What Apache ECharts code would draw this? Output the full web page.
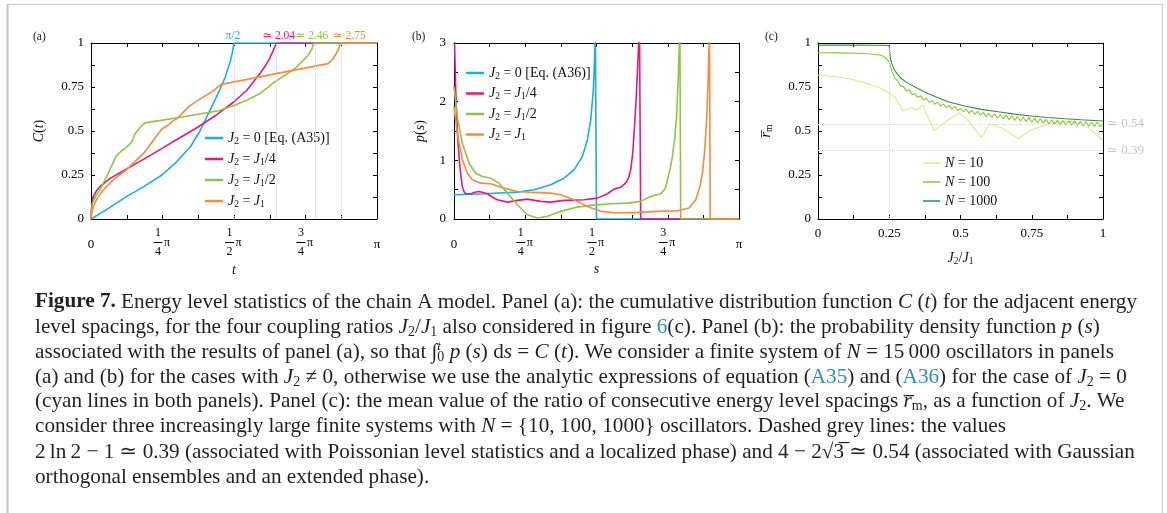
<!DOCTYPE html>
<html>
<head>
<meta charset="utf-8">
<script src="https://cdn.jsdelivr.net/npm/echarts@6/dist/echarts.min.js"></script>
<style>
  html, body { margin: 0; padding: 0; background: #fff; }
  #chart { width: 1167px; height: 513px; }
</style>
</head>
<body>
<div id="chart"></div>
<script>
const PI = Math.PI;
const SERIF = "'Liberation Serif', 'DejaVu Serif', serif";

// panel (a): cumulative distribution C(t), pairs [t, C]
const aJ0 = [[0, 0], [0.17, 0.053], [0.38, 0.124], [0.58, 0.184], [0.78, 0.25], [0.94, 0.325], [1.09, 0.409], [1.2, 0.503], [1.27, 0.578], [1.34, 0.653], [1.42, 0.74], [1.47, 0.8], [1.505, 0.855], [1.535, 0.905], [1.55, 0.94], [1.562, 0.97], [1.5708, 1], [3.1416, 1]];
const aJ14 = [[0, 0], [0.005, 0.05], [0.012, 0.09], [0.026, 0.128], [0.06, 0.16], [0.1, 0.185], [0.21, 0.231], [0.385, 0.283], [0.58, 0.34], [0.776, 0.4], [0.97, 0.46], [1.167, 0.52], [1.36, 0.585], [1.56, 0.662], [1.71, 0.73], [1.8, 0.79], [1.86, 0.83], [1.91, 0.866], [1.96, 0.91], [2.0, 0.955], [2.025, 0.985], [2.04, 1], [3.1416, 1]];
const aJ12 = [[0, 0], [0.005, 0.045], [0.018, 0.09], [0.05, 0.13], [0.099, 0.165], [0.18, 0.25], [0.275, 0.356], [0.33, 0.385], [0.392, 0.409], [0.447, 0.437], [0.483, 0.484], [0.54, 0.52], [0.593, 0.546], [1.0, 0.58], [1.398, 0.615], [1.563, 0.644], [1.71, 0.675], [1.856, 0.713], [2.018, 0.779], [2.14, 0.82], [2.238, 0.854], [2.32, 0.895], [2.384, 0.929], [2.43, 0.97], [2.446, 1], [3.1416, 1]];
const aJ1 = [[0, 0], [0.01, 0.035], [0.026, 0.071], [0.07, 0.12], [0.135, 0.165], [0.25, 0.225], [0.384, 0.278], [0.575, 0.371], [0.776, 0.51], [0.85, 0.535], [0.904, 0.559], [0.95, 0.572], [0.977, 0.587], [1.02, 0.61], [1.087, 0.644], [1.197, 0.681], [1.343, 0.728], [1.431, 0.765], [1.8, 0.802], [2.2, 0.843], [2.603, 0.883], [2.65, 0.905], [2.695, 0.94], [2.725, 0.975], [2.739, 1], [3.1416, 1]];
const aEnds = [PI / 2, 2.04, 2.46, 2.75];
const aEndLabels = ['π/2', '≃ 2.04', '≃ 2.46', '≃ 2.75'];
const aEndShift = [-2, 4, -6, 16];

// panel (b): probability density p(s), pairs [s, p]
const bJ0 = [[0, 0.413], [0.331, 0.43], [0.699, 0.458], [0.882, 0.498], [1.066, 0.583], [1.213, 0.696], [1.323, 0.838], [1.415, 1.064], [1.47, 1.347], [1.507, 1.687], [1.536, 2.196], [1.551, 2.763], [1.558, 3.2], [1.5708, 3.2], [1.5708, 0], [3.1416, 0]];
const bJ14 = [[0, 3.2], [0.006, 3.0], [0.019, 2.196], [0.037, 1.5], [0.055, 1.064], [0.075, 0.75], [0.092, 0.554], [0.11, 0.47], [0.129, 0.43], [0.184, 0.43], [0.23, 0.455], [0.276, 0.469], [0.32, 0.452], [0.368, 0.43], [0.42, 0.375], [0.478, 0.328], [0.588, 0.288], [0.698, 0.317], [0.809, 0.339], [0.956, 0.3], [1.066, 0.288], [1.213, 0.317], [1.433, 0.328], [1.58, 0.356], [1.69, 0.43], [1.764, 0.509], [1.837, 0.543], [1.892, 0.611], [1.925, 0.7], [1.948, 0.838], [1.972, 1.15], [1.992, 1.63], [2.008, 2.05], [2.021, 2.48], [2.036, 3.0], [2.045, 3.2], [2.058, 3.2], [2.058, 0], [3.1416, 0]];
const bJ12 = [[0, 2.25], [0.037, 1.74], [0.092, 1.29], [0.166, 0.95], [0.239, 0.78], [0.313, 0.724], [0.405, 0.696], [0.496, 0.611], [0.588, 0.441], [0.698, 0.243], [0.809, 0.073], [0.919, 0.016], [1.029, 0.045], [1.176, 0.13], [1.36, 0.203], [1.507, 0.232], [1.727, 0.26], [1.911, 0.271], [2.058, 0.3], [2.168, 0.385], [2.278, 0.43], [2.33, 0.52], [2.352, 0.668], [2.382, 0.85], [2.407, 1.064], [2.435, 1.4], [2.455, 1.8], [2.472, 2.4], [2.484, 3.0], [2.49, 3.2], [2.499, 3.2], [2.499, 0], [3.1416, 0]];
const bJ1 = [[0, 1.91], [0.037, 1.46], [0.092, 1.01], [0.147, 0.78], [0.202, 0.668], [0.294, 0.611], [0.405, 0.6], [0.552, 0.526], [0.698, 0.469], [0.882, 0.453], [1.066, 0.441], [1.176, 0.413], [1.323, 0.328], [1.47, 0.215], [1.617, 0.13], [1.8, 0.101], [2.021, 0.113], [2.242, 0.13], [2.462, 0.141], [2.591, 0.186], [2.665, 0.328], [2.71, 0.55], [2.74, 0.8], [2.765, 1.2], [2.785, 1.7], [2.8, 2.3], [2.812, 3.0], [2.816, 3.2], [2.825, 3.2], [2.825, 0], [3.1416, 0]];

// panel (c): mean ratio r_m vs J2/J1
const cN10 = [[0, 0.817], [0.047, 0.811], [0.105, 0.798], [0.164, 0.775], [0.222, 0.742], [0.25, 0.715], [0.269, 0.694], [0.298, 0.615], [0.328, 0.634], [0.345, 0.619], [0.368, 0.647], [0.407, 0.502], [0.456, 0.562], [0.497, 0.604], [0.526, 0.562], [0.573, 0.464], [0.602, 0.538], [0.643, 0.519], [0.702, 0.457], [0.749, 0.506], [0.807, 0.54], [0.854, 0.553], [0.9, 0.553], [0.947, 0.521], [1.0, 0.449]];
const cN100 = [[0, 0.945], [0.08, 0.944], [0.164, 0.94], [0.2, 0.935], [0.222, 0.93], [0.24, 0.912], [0.25, 0.89], [0.255, 0.86], [0.26, 0.835], [0.265, 0.82], [0.27, 0.8], [0.28, 0.785], [0.29, 0.755], [0.3, 0.752], [0.31, 0.728], [0.32, 0.735], [0.33, 0.708], [0.34, 0.712], [0.35, 0.69], [0.36, 0.7], [0.37, 0.676], [0.38, 0.686], [0.39, 0.662], [0.4, 0.674], [0.41, 0.652], [0.42, 0.664], [0.43, 0.641], [0.44, 0.654], [0.45, 0.632], [0.46, 0.646], [0.47, 0.624], [0.48, 0.64], [0.49, 0.617], [0.5, 0.628], [0.51, 0.608], [0.52, 0.626], [0.53, 0.6], [0.54, 0.618], [0.55, 0.594], [0.56, 0.612], [0.57, 0.59], [0.58, 0.606], [0.59, 0.582], [0.6, 0.601], [0.61, 0.578], [0.62, 0.597], [0.63, 0.574], [0.64, 0.594], [0.65, 0.568], [0.66, 0.59], [0.67, 0.565], [0.68, 0.587], [0.69, 0.56], [0.7, 0.582], [0.71, 0.557], [0.72, 0.58], [0.73, 0.553], [0.74, 0.576], [0.75, 0.55], [0.76, 0.573], [0.77, 0.547], [0.78, 0.57], [0.79, 0.544], [0.8, 0.566], [0.81, 0.542], [0.82, 0.564], [0.83, 0.538], [0.84, 0.562], [0.85, 0.536], [0.86, 0.56], [0.87, 0.534], [0.88, 0.558], [0.89, 0.532], [0.9, 0.556], [0.91, 0.53], [0.92, 0.555], [0.93, 0.528], [0.94, 0.553], [0.95, 0.527], [0.96, 0.551], [0.97, 0.526], [0.98, 0.55], [0.99, 0.525], [1.0, 0.54]];
const cN1000 = [[0, 0.988], [0.1, 0.988], [0.2, 0.987], [0.249, 0.986], [0.251, 0.96], [0.255, 0.902], [0.262, 0.87], [0.269, 0.845], [0.28, 0.82], [0.292, 0.798], [0.315, 0.772], [0.339, 0.751], [0.37, 0.725], [0.398, 0.704], [0.43, 0.683], [0.456, 0.666], [0.515, 0.642], [0.573, 0.623], [0.632, 0.609], [0.69, 0.596], [0.749, 0.585], [0.807, 0.577], [0.866, 0.57], [0.924, 0.564], [1.0, 0.557]];
const cRefLevels = [0.54, 0.39];
const cRefLabels = ['≃ 0.54', '≃ 0.39'];
const cTransition = 0.25;

const abColors = ['#18aee6', '#e6187f', '#8dc63f', '#f68b3d'];
const cColors = ['#dfe68c', '#8cc540', '#3d8a37'];

const legendA = ['{i|J}{s|2} = 0 [Eq. (A35)]', '{i|J}{s|2} = {i|J}{s|1}/4', '{i|J}{s|2} = {i|J}{s|1}/2', '{i|J}{s|2} = {i|J}{s|1}'];
const legendB = ['{i|J}{s|2} = 0 [Eq. (A36)]', '{i|J}{s|2} = {i|J}{s|1}/4', '{i|J}{s|2} = {i|J}{s|1}/2', '{i|J}{s|2} = {i|J}{s|1}'];
const legendC = ['{i|N} = 10', '{i|N} = 100', '{i|N} = 1000'];

const captionLines = [
  '{b|Figure 7.} Energy level statistics of the chain A model. Panel (a): the cumulative distribution function {i|C} ({i|t}) for the adjacent energy',
  'level spacings, for the four coupling ratios {i|J}{s|2}/{i|J}{s|1} also considered in figure {l|6}(c). Panel (b): the probability density function {i|p} ({i|s})',
  'associated with the results of panel (a), so that ∫{su|t}{s|0} {i|p} ({i|s}) d{i|s} = {i|C} ({i|t}). We consider a finite system of {i|N} = 15\u2009000 oscillators in panels',
  '(a) and (b) for the cases with {i|J}{s|2} ≠ 0, otherwise we use the analytic expressions of equation ({l|A35}) and ({l|A36}) for the case of {i|J}{s|2} = 0',
  '(cyan lines in both panels). Panel (c): the mean value of the ratio of consecutive energy level spacings {i|r\u0305}{s|m}, as a function of {i|J}{s|2}. We',
  'consider three increasingly large finite systems with {i|N} = {10, 100, 1000} oscillators. Dashed grey lines: the values',
  '2\u2009ln\u20092 − 1 ≃ 0.39 (associated with Poissonian level statistics and a localized phase) and 4 − 2√3\u0305 ≃ 0.54 (associated with Gaussian',
  'orthogonal ensembles and an extended phase).'
];
const captionY = [302, 327, 352.5, 377, 401.5, 426.5, 452.5, 477];

const names = {
  aJ0: legendA[0], aJ14: legendA[1], aJ12: legendA[2], aJ1: legendA[3],
  bJ0: legendB[0], bJ14: legendB[1], bJ12: legendB[2], bJ1: legendB[3],
  cN10: legendC[0], cN100: legendC[1], cN1000: legendC[2]
};

function piTick(v) {
  const k = Math.round(v / (PI / 8));
  if (k % 2) return '';
  const q = k / 2;
  if (q === 0) return '{g| }\n{z|0}\n{g| }';
  if (q === 4) return '{g| }\n{z|π}\n{g| }';
  const fr = q === 2 ? ['1', '2'] : (q === 1 ? ['1', '4'] : ['3', '4']);
  return '{n|' + fr[0] + '}{w| }\n{bar| }{p|π}\n{n|' + fr[1] + '}{w| }';
}
function quarterTick(v) {
  const k = Math.round(v * 8);
  return k % 2 ? '' : String(Math.round(v * 100) / 100);
}
function intTick(v) {
  return Math.abs(v - Math.round(v)) < 1e-6 ? String(Math.round(v)) : '';
}

const tickRich = {
  n: { fontSize: 12, fontFamily: SERIF, width: 9, align: 'center', lineHeight: 12, color: '#000' },
  w: { width: 9, lineHeight: 12, fontSize: 12 },
  bar: { width: 9, height: 1, backgroundColor: '#000', lineHeight: 7, fontSize: 6 },
  p: { fontSize: 12, fontFamily: SERIF, width: 9, align: 'center', lineHeight: 7, color: '#000' },
  z: { fontSize: 13, fontFamily: SERIF, lineHeight: 7, color: '#000', padding: [5, 0, 0, 0] },
  g: { lineHeight: 12, fontSize: 12 }
};
const mathRich = {
  i: { fontStyle: 'italic', fontFamily: SERIF, fontSize: 14, color: '#111', lineHeight: 16 },
  s: { fontFamily: SERIF, fontSize: 9.5, padding: [6, 0, 0, 0], color: '#111', lineHeight: 16 }
};

const axLine = { show: true, onZero: false, lineStyle: { color: '#000', width: 1 } };
const axTick = { show: true, inside: true, length: 4, lineStyle: { color: '#000', width: 1 } };

function axisPair(g, max, interval, fmt, rich, margin, name, nameGap, isX) {
  const main = {
    gridIndex: g, type: 'value', min: 0, max: max, interval: interval,
    position: isX ? 'bottom' : 'left',
    name: name, nameLocation: 'middle', nameGap: nameGap,
    nameTextStyle: { fontFamily: SERIF, fontSize: 14, color: '#111', rich: mathRich },
    axisLine: axLine, axisTick: axTick,
    axisLabel: { formatter: fmt, margin: margin, fontFamily: SERIF, fontSize: 13, color: '#000', rich: rich, showMinLabel: true, showMaxLabel: true },
    splitLine: { show: false }
  };
  const mirror = {
    gridIndex: g, type: 'value', min: 0, max: max, interval: interval,
    position: isX ? 'top' : 'right',
    axisLine: axLine, axisTick: axTick,
    axisLabel: { show: false }, splitLine: { show: false }
  };
  return [main, mirror];
}

const xAxis = [].concat(
  axisPair(0, PI, PI / 8, piTick, tickRich, 8, '{i|t}', 43, true),
  axisPair(1, PI, PI / 8, piTick, tickRich, 8, '{i|s}', 42, true),
  axisPair(2, 1, 0.125, quarterTick, null, 8, '{i|J}{s|2}/{i|J}{s|1}', 31, true)
);
const yAxis = [].concat(
  axisPair(0, 1, 0.125, quarterTick, null, 7, '{i|C}({i|t})', 44, false),
  axisPair(1, 3, 0.5, intTick, null, 8, '{i|p}({i|s})', 26, false),
  axisPair(2, 1, 0.125, quarterTick, null, 7, '{i|r\u0305}{s|m}', 44, false)
);

function line(name, data, g, color, width, extra) {
  return Object.assign({
    name: name, type: 'line', data: data,
    xAxisIndex: g * 2, yAxisIndex: g * 2,
    symbol: 'none', smooth: false, clip: true,
    lineStyle: { color: color, width: width }, itemStyle: { color: color },
    emphasis: { disabled: true }, animation: false
  }, extra || {});
}

const aMarks = {
  markLine: {
    silent: true, symbol: ['none', 'none'], animation: false,
    lineStyle: { color: '#d4d4d4', type: 'dotted', width: 1 },
    label: { position: 'end', distance: 1, fontFamily: SERIF, fontSize: 11.5 },
    data: aEnds.map((v, i) => ({
      xAxis: v,
      label: {
        formatter: aEndLabels[i], color: abColors[i],
        padding: aEndShift[i] > 0 ? [0, 0, 0, aEndShift[i]] : [0, -aEndShift[i], 0, 0]
      }
    }))
  }
};
const cMarks = {
  markLine: {
    silent: true, symbol: ['none', 'none'], animation: false,
    lineStyle: { color: '#dadada', type: 'dotted', width: 1 },
    label: { position: 'end', distance: 4, fontFamily: SERIF, fontSize: 13, color: '#c4c4c4' },
    data: cRefLevels.map((v, i) => ({ yAxis: v, label: { formatter: cRefLabels[i] } }))
      .concat([{ xAxis: cTransition, label: { show: false } }])
  }
};

function legend(data, left, top, itemHeight, itemGap, itemWidth) {
  return {
    data: data, orient: 'vertical', left: left, top: top,
    icon: 'rect', itemWidth: itemWidth, itemHeight: itemHeight, itemGap: itemGap,
    selectedMode: false, padding: 0,
    formatter: n => names[n],
    textStyle: { fontFamily: SERIF, fontSize: 14, color: '#111', lineHeight: 16, rich: mathRich }
  };
}

const CAP = 21.2;
const capRich = {
  b: { fontWeight: 'bold', fontFamily: SERIF, fontSize: CAP },
  i: { fontStyle: 'italic', fontFamily: SERIF, fontSize: CAP },
  s: { fontFamily: SERIF, fontSize: 14, padding: [10, 0, 0, 0] },
  su: { fontFamily: SERIF, fontStyle: 'italic', fontSize: 13, padding: [0, 0, 11, 0], width: 0 },
  l: { fontFamily: SERIF, fontSize: CAP, fill: '#2a8fc8', color: '#2a8fc8' }
};

const graphic = [
  { type: 'line', silent: true, shape: { x1: 7, y1: 4.5, x2: 1163, y2: 4.5 }, style: { stroke: '#c8c8c8', lineWidth: 1 } },
  { type: 'line', silent: true, shape: { x1: 7.5, y1: 4, x2: 7.5, y2: 513 }, style: { stroke: '#c2c2c2', lineWidth: 2 } },
  { type: 'line', silent: true, shape: { x1: 1162.5, y1: 4, x2: 1162.5, y2: 513 }, style: { stroke: '#cccccc', lineWidth: 1 } }
];
[['(a)', 33], ['(b)', 412], ['(c)', 765]].forEach(p => {
  graphic.push({ type: 'text', silent: true, x: p[1], y: 37,
    style: { text: p[0], fontFamily: SERIF, fontSize: 11.5, fill: '#222', verticalAlign: 'middle' } });
});
captionLines.forEach((t, k) => {
  graphic.push({ type: 'text', silent: true, x: 35, y: captionY[k],
    style: { text: t, fontFamily: SERIF, fontSize: CAP, fill: '#231f20', verticalAlign: 'middle', rich: capRich } });
});

const option = {
  animation: false,
  backgroundColor: '#fff',
  textStyle: { fontFamily: SERIF },
  grid: [
    { left: 91, top: 43, width: 286, height: 176, containLabel: false, outerBoundsMode: 'none' },
    { left: 454, top: 43, width: 285, height: 176, containLabel: false, outerBoundsMode: 'none' },
    { left: 818, top: 43, width: 285, height: 176, containLabel: false, outerBoundsMode: 'none' }
  ],
  xAxis: xAxis,
  yAxis: yAxis,
  legend: [
    legend(['aJ0', 'aJ14', 'aJ12', 'aJ1'], 205, 130, 2.5, 5, 18),
    legend(['bJ0', 'bJ14', 'bJ12', 'bJ1'], 466, 65, 2.5, 4.5, 18),
    legend(['cN10', 'cN100', 'cN1000'], 923, 155, 1.5, 3, 17)
  ],
  graphic: graphic,
  series: [
    line('aJ0', aJ0, 0, abColors[0], 1.6, aMarks),
    line('aJ14', aJ14, 0, abColors[1], 1.6),
    line('aJ12', aJ12, 0, abColors[2], 1.6),
    line('aJ1', aJ1, 0, abColors[3], 1.6),
    line('bJ0', bJ0, 1, abColors[0], 1.6),
    line('bJ14', bJ14, 1, abColors[1], 1.6),
    line('bJ12', bJ12, 1, abColors[2], 1.6),
    line('bJ1', bJ1, 1, abColors[3], 1.6),
    line('cN10', cN10, 2, cColors[0], 1.1, cMarks),
    line('cN100', cN100, 2, cColors[1], 1.1),
    line('cN1000', cN1000, 2, cColors[2], 1.1)
  ]
};

const chart = echarts.init(document.getElementById('chart'), null, { renderer: 'canvas' });
chart.setOption(option);
</script>
</body>
</html>
